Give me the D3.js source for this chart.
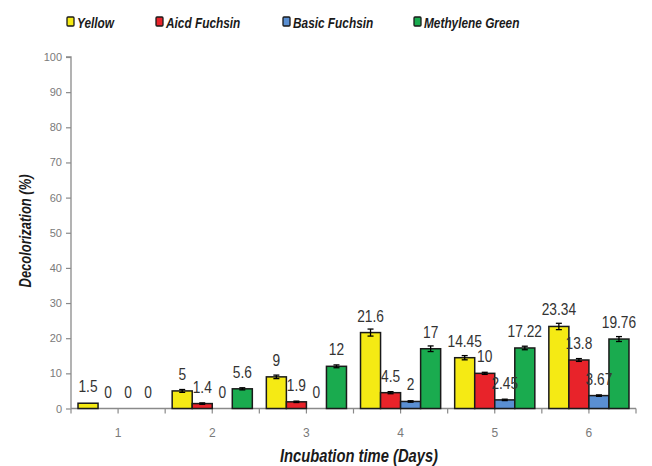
<!DOCTYPE html>
<html>
<head>
<meta charset="utf-8">
<script src="https://cdn.jsdelivr.net/npm/d3@7"></script>
<style>
  body { margin: 0; background: #fff; }
  svg { display: block; }
  .narrow { font-family: 'Liberation Sans', Arial, sans-serif; }
</style>
</head>
<body>
<script>
// dados
const days = ["1", "2", "3", "4", "5", "6"];
const seriesNames = ["Yellow", "Aicd Fuchsin", "Basic Fuchsin", "Methylene Green"];
const yellow = [1.5, 5, 9, 21.6, 14.45, 23.34];
const aicdFuchsin = [0, 1.4, 1.9, 4.5, 10, 13.8];
const basicFuchsin = [0, 0, 0, 2, 2.45, 3.67];
const methyleneGreen = [0, 5.6, 12, 17, 17.22, 19.76];
// barras de erro (estimadas)
const yellowErr = [0, 0.4, 0.5, 1.0, 0.6, 0.9];
const aicdErr = [0, 0.2, 0.2, 0.3, 0.3, 0.4];
const basicErr = [0, 0, 0, 0.2, 0.2, 0.2];
const greenErr = [0, 0.3, 0.4, 0.8, 0.5, 0.7];
const yTicks = [0, 10, 20, 30, 40, 50, 60, 70, 80, 90, 100];

const colors = ["#f5ea14", "#e8232a", "#5a8fd2", "#1aab4f"];
const values = [yellow, aicdFuchsin, basicFuchsin, methyleneGreen];
const errors = [yellowErr, aicdErr, basicErr, greenErr];

const W = 652, H = 466;
const margin = {top: 57, right: 16, bottom: 58, left: 71};

const svg = d3.select("body").append("svg")
  .attr("width", W)
  .attr("height", H);

const x = d3.scaleBand()
  .domain(days)
  .range([margin.left, W - margin.right])
  .paddingInner(0).paddingOuter(0);

const xInner = d3.scaleBand()
  .domain(seriesNames)
  .range([0, x.bandwidth()])
  .paddingOuter(0.35).paddingInner(0);

const y = d3.scaleLinear()
  .domain([0, 100])
  .range([H - margin.bottom + 0.5, margin.top]);

// texto condensado (fonte narrow nao instalada)
function narrowText(sel, k) {
  return sel.attr("class", "narrow")
    .attr("transform", function() {
      const t = d3.select(this);
      return "translate(" + t.attr("data-x") + "," + t.attr("data-y") + ") scale(" + k + ",1)";
    });
}

// eixo y
const yAxis = svg.append("g")
  .attr("transform", "translate(" + margin.left + ",0)")
  .call(d3.axisLeft(y).tickValues(yTicks).tickSize(5).tickPadding(4));
yAxis.select(".domain").attr("stroke", "#8a8a8a").attr("stroke-width", 1.3)
  .attr("d", "M-5," + y(100) + "H0V" + y(0));
yAxis.selectAll(".tick line").attr("stroke", "#8a8a8a").attr("stroke-width", 1.2);
yAxis.selectAll(".tick text")
  .attr("fill", "#7a7a7a")
  .style("font-family", "'Liberation Sans', Arial, sans-serif")
  .style("font-size", "11px");

// eixo x
const xAxisG = svg.append("g")
  .attr("transform", "translate(0," + y(0) + ")");
xAxisG.append("line")
  .attr("x1", margin.left).attr("x2", W - margin.right)
  .attr("stroke", "#8a8a8a").attr("stroke-width", 1.3);
const halfTicks = [];
days.forEach(d => { halfTicks.push(x(d)); halfTicks.push(x(d) + x.bandwidth() / 2); });
halfTicks.push(x(days[days.length - 1]) + x.bandwidth());
xAxisG.selectAll(".xt")
  .data(halfTicks)
  .enter().append("line")
  .attr("x1", d => d).attr("x2", d => d)
  .attr("y1", 0).attr("y2", 5)
  .attr("stroke", "#8a8a8a").attr("stroke-width", 1.2);
xAxisG.selectAll(".xl")
  .data(days)
  .enter().append("text")
  .attr("x", d => x(d) + x.bandwidth() / 2)
  .attr("y", 28)
  .attr("text-anchor", "middle")
  .attr("fill", "#7a7a7a")
  .style("font-family", "'Liberation Sans', Arial, sans-serif")
  .style("font-size", "12px")
  .text(d => d);

// barras
const bars = [];
values.forEach((serie, s) => {
  serie.forEach((v, i) => {
    bars.push({day: days[i], name: seriesNames[s], value: v, err: errors[s][i], color: colors[s]});
  });
});
const cx = d => x(d.day) + xInner(d.name) + xInner.bandwidth() / 2;

const g = svg.append("g");
g.selectAll(".bar")
  .data(bars.filter(d => d.value > 0))
  .enter().append("rect")
  .attr("class", "bar")
  .attr("x", d => x(d.day) + xInner(d.name))
  .attr("width", xInner.bandwidth())
  .attr("y", d => y(d.value))
  .attr("height", d => y(0) - y(d.value))
  .attr("fill", d => d.color)
  .attr("stroke", "#1a1a1a")
  .attr("stroke-width", 1.5);

// barras de erro
const eb = g.selectAll(".err")
  .data(bars.filter(d => d.err > 0))
  .enter().append("g")
  .attr("transform", d => "translate(" + cx(d) + ",0)");
eb.append("line")
  .attr("y1", d => y(d.value + d.err)).attr("y2", d => y(d.value - d.err))
  .attr("stroke", "#000").attr("stroke-width", 1.3);
eb.append("line")
  .attr("x1", -3).attr("x2", 3)
  .attr("y1", d => y(d.value + d.err)).attr("y2", d => y(d.value + d.err))
  .attr("stroke", "#000").attr("stroke-width", 1.3);
eb.append("line")
  .attr("x1", -3).attr("x2", 3)
  .attr("y1", d => y(d.value - d.err)).attr("y2", d => y(d.value - d.err))
  .attr("stroke", "#000").attr("stroke-width", 1.3);

// rotulos de valor
g.selectAll(".lbl")
  .data(bars)
  .enter().append("text")
  .attr("data-x", d => cx(d))
  .attr("data-y", d => y(d.value) - 11)
  .attr("text-anchor", "middle")
  .attr("fill", "#333")
  .style("font-size", "16px")
  .text(d => d.value)
  .call(narrowText, 0.86);

// titulos dos eixos
svg.append("text")
  .attr("data-x", 31).attr("data-y", 231)
  .attr("text-anchor", "middle")
  .style("font-size", "16px")
  .style("font-weight", "bold")
  .style("font-style", "italic")
  .attr("fill", "#1a1a1a")
  .text("Decolorization (%)")
  .call(narrowText, 0.81)
  .attr("transform", "translate(31,231) rotate(-90) scale(0.81,1)");

svg.append("text")
  .attr("data-x", 359).attr("data-y", 462)
  .attr("text-anchor", "middle")
  .style("font-size", "18px")
  .style("font-weight", "bold")
  .style("font-style", "italic")
  .attr("fill", "#1a1a1a")
  .text("Incubation time (Days)")
  .call(narrowText, 0.82);

// legenda
const legendX = [67, 156, 283, 414];
const leg = svg.selectAll(".leg")
  .data(seriesNames)
  .enter().append("g")
  .attr("transform", (d, i) => "translate(" + legendX[i] + ",17)");
leg.append("rect")
  .attr("width", 7).attr("height", 9)
  .attr("fill", (d, i) => colors[i])
  .attr("stroke", "#1a1a1a").attr("stroke-width", 1.3)
  .attr("rx", 1);
leg.append("text")
  .attr("data-x", 10).attr("data-y", 10.5)
  .style("font-size", "15px")
  .style("font-weight", "bold")
  .style("font-style", "italic")
  .attr("fill", "#1a1a1a")
  .text(d => d)
  .call(narrowText, 0.79);
</script>
</body>
</html>
